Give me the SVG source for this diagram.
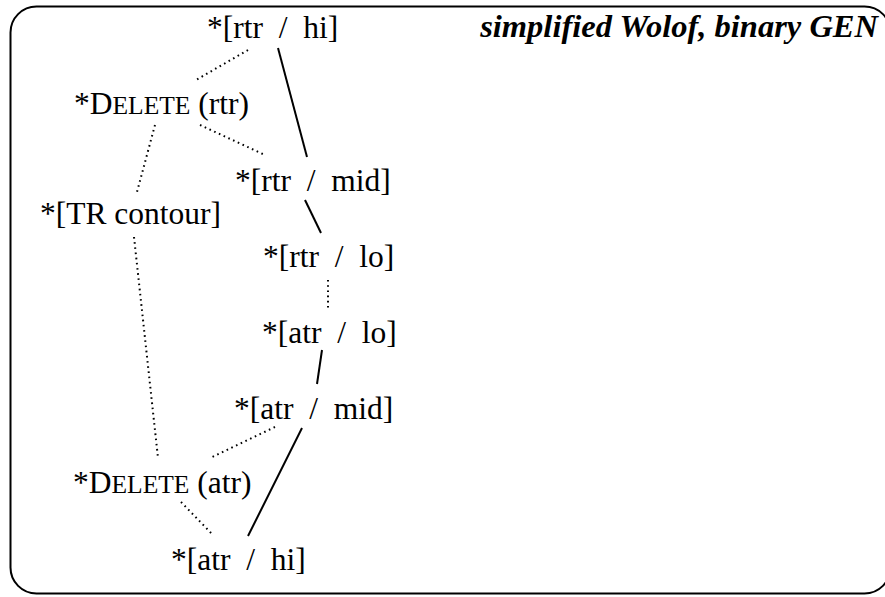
<svg xmlns="http://www.w3.org/2000/svg" width="885" height="597" viewBox="0 0 885 597">
<style>
.t{font-family:'Liberation Serif','Times New Roman',serif;font-size:31.5px;fill:#000;white-space:pre}
.sc{font-size:25.5px}
.title{font-family:'Liberation Serif','Times New Roman',serif;font-weight:bold;font-style:italic;font-size:32.5px;fill:#000}
.solid{stroke:#000;stroke-width:2;fill:none}
.dot{stroke:#000;stroke-width:2;fill:none;stroke-dasharray:1.6 3.6}
</style>
<rect x="10.5" y="6.5" width="880" height="587" rx="26" ry="26" fill="#fff" stroke="#000" stroke-width="2"/>
<text class="title" x="878" y="37" text-anchor="end">simplified Wolof, binary GEN</text>
<g id="connectors">
<line class="solid" x1="278" y1="48" x2="307" y2="157"/>
<line class="solid" x1="305" y1="200" x2="321" y2="233"/>
<line class="dot" x1="328" y1="280" x2="328" y2="310"/>
<line class="solid" x1="322" y1="350" x2="317" y2="384"/>
<line class="solid" x1="302" y1="428" x2="248" y2="536"/>
<line class="dot" x1="248" y1="50" x2="196" y2="80"/>
<line class="dot" x1="200" y1="125" x2="265" y2="155"/>
<line class="dot" x1="155" y1="125" x2="137" y2="192"/>
<line class="dot" x1="134" y1="237" x2="158" y2="458"/>
<line class="dot" x1="275" y1="427" x2="210" y2="458"/>
<line class="dot" x1="181" y1="502" x2="213" y2="535"/>
</g>
<g id="rtr-hi"><text class="t" x="207" y="38">*[rtr  /  hi]</text></g>
<g id="delete-rtr"><text class="t" x="74" y="114">*D<tspan class="sc">ELETE</tspan> (rtr)</text></g>
<g id="rtr-mid"><text class="t" x="235" y="191">*[rtr  /  mid]</text></g>
<g id="tr-contour"><text class="t" x="40" y="224">*[TR contour]</text></g>
<g id="rtr-lo"><text class="t" x="263" y="267">*[rtr  /  lo]</text></g>
<g id="atr-lo"><text class="t" x="262" y="343">*[atr  /  lo]</text></g>
<g id="atr-mid"><text class="t" x="234" y="419">*[atr  /  mid]</text></g>
<g id="delete-atr"><text class="t" x="73" y="493">*D<tspan class="sc">ELETE</tspan> (atr)</text></g>
<g id="atr-hi"><text class="t" x="171" y="570">*[atr  /  hi]</text></g>
</svg>
